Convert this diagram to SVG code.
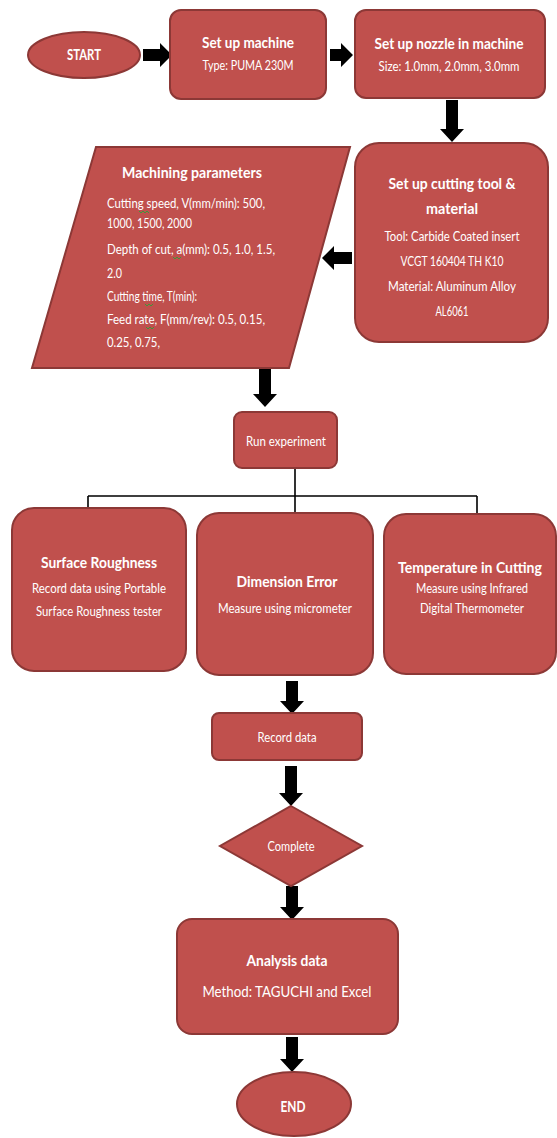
<svg xmlns="http://www.w3.org/2000/svg" width="557" height="1138" viewBox="0 0 557 1138">
<defs>
<style>
.n{fill:#C0504D;stroke:#8C3836;stroke-width:2}
.t{font-family:Lato,"Open Sans","Liberation Sans",sans-serif;fill:#FFFFFF;text-anchor:middle}
.h{font-weight:bold;font-size:16px}
.s{font-size:12.5px}
.l{text-anchor:start}
.a{fill:#000000}
.c{fill:none;stroke:#000000;stroke-width:1.6}
.sq{fill:none;stroke:#3A9A3A;stroke-width:1}
</style>
</defs>
<rect width="557" height="1138" fill="#FFFFFF"/>
<g id="connectors">
<polygon class="a" points="143,49 160,49 160,43 172,55 160,67 160,61 143,61"/>
<polygon class="a" points="330,49 341,49 341,43 353,55 341,67 341,61 330,61"/>
<polygon class="a" points="446,100 458,100 458,129 464,129 452,142 440,129 446,129"/>
<polygon class="a" points="352,252 334,252 334,246 322,258 334,270 334,264 352,264"/>
<polygon class="a" points="259,369 271,369 271,394 277,394 265,407 253,394 259,394"/>
<path class="c" d="M295,468 V513 M88,496 H477 M88,496 V508 M477,496 V514"/>
<polygon class="a" points="286,681 298,681 298,701 304,701 292,714 280,701 286,701"/>
<polygon class="a" points="285,766 297,766 297,793 303,793 291,806 279,793 285,793"/>
<polygon class="a" points="286,886 298,886 298,907 304,907 292,920 280,907 286,907"/>
<polygon class="a" points="286,1037 298,1037 298,1059 304,1059 292,1072 280,1059 286,1059"/>
</g>
<g id="start">
<ellipse class="n" cx="84" cy="55" rx="56" ry="23"/>
<text class="t" x="84" y="60" font-size="15" font-weight="bold" textLength="34" lengthAdjust="spacingAndGlyphs">START</text>
</g>
<g id="setup-machine">
<rect class="n" x="170" y="10" width="156" height="89" rx="11"/>
<text class="t h" x="248" y="48" textLength="92" lengthAdjust="spacingAndGlyphs">Set up machine</text>
<text class="t s" x="248" y="70" textLength="91" lengthAdjust="spacingAndGlyphs">Type: PUMA 230M</text>
</g>
<g id="setup-nozzle">
<rect class="n" x="355" y="10" width="190" height="88" rx="11"/>
<text class="t h" x="449" y="49" textLength="149" lengthAdjust="spacingAndGlyphs">Set up nozzle in machine</text>
<text class="t s" x="449" y="71" textLength="141" lengthAdjust="spacingAndGlyphs">Size: 1.0mm,  2.0mm, 3.0mm</text>
</g>
<g id="setup-tool">
<rect class="n" x="355" y="143" width="193" height="199" rx="24"/>
<text class="t h" x="452" y="189" font-size="17" textLength="127" lengthAdjust="spacingAndGlyphs">Set up cutting tool &amp;</text>
<text class="t h" x="452" y="214" font-size="17" textLength="52" lengthAdjust="spacingAndGlyphs">material</text>
<text class="t s" x="452" y="241" textLength="135" lengthAdjust="spacingAndGlyphs">Tool: Carbide Coated insert</text>
<text class="t s" x="452" y="266" textLength="103" lengthAdjust="spacingAndGlyphs">VCGT 160404 TH K10</text>
<text class="t s" x="452" y="291" textLength="128" lengthAdjust="spacingAndGlyphs">Material: Aluminum Alloy</text>
<text class="t s" x="452" y="316" textLength="33" lengthAdjust="spacingAndGlyphs">AL6061</text>
</g>
<g id="machining-parameters">
<polygon class="n" points="96,147 350,147 289,368 32,368"/>
<text class="t h" x="192" y="178" textLength="140" lengthAdjust="spacingAndGlyphs">Machining parameters</text>
<text class="t s l" x="107" y="208" textLength="158" lengthAdjust="spacingAndGlyphs">Cutting speed, V(mm/min):  500,</text>
<text class="t s l" x="107" y="228" textLength="85" lengthAdjust="spacingAndGlyphs">1000, 1500, 2000</text>
<text class="t s l" x="107" y="254" textLength="168" lengthAdjust="spacingAndGlyphs">Depth of cut, a(mm): 0.5, 1.0, 1.5,</text>
<text class="t s l" x="107" y="278" textLength="15" lengthAdjust="spacingAndGlyphs">2.0</text>
<text class="t s l" x="107" y="301" textLength="90" lengthAdjust="spacingAndGlyphs">Cutting time, T(min):</text>
<text class="t s l" x="107" y="324" textLength="158" lengthAdjust="spacingAndGlyphs">Feed rate, F(mm/rev): 0.5, 0.15,</text>
<text class="t s l" x="107" y="347" textLength="53" lengthAdjust="spacingAndGlyphs">0.25, 0.75,</text>
<path class="sq" d="M139,211 l2,2 l2,-2 l2,2 l2,-2 l2,2 M173,257 l2,2 l2,-2 l2,2 l2,-2 M145,304 l2,2 l2,-2 l2,2 l2,-2 M146,327 l2,2 l2,-2 l2,2 l2,-2"/>
</g>
<g id="run-experiment">
<rect class="n" x="234" y="412" width="103" height="56" rx="8"/>
<text class="t s" x="286" y="446" textLength="80" lengthAdjust="spacingAndGlyphs">Run experiment</text>
</g>
<g id="surface-roughness">
<rect class="n" x="12" y="508" width="174" height="163" rx="22"/>
<text class="t h" x="99" y="568" textLength="116" lengthAdjust="spacingAndGlyphs">Surface Roughness</text>
<text class="t s" x="99" y="593" textLength="134" lengthAdjust="spacingAndGlyphs">Record data using Portable</text>
<text class="t s" x="99" y="616" textLength="126" lengthAdjust="spacingAndGlyphs">Surface Roughness  tester</text>
</g>
<g id="dimension-error">
<rect class="n" x="197" y="513" width="176" height="162" rx="22"/>
<text class="t h" x="287" y="587" textLength="101" lengthAdjust="spacingAndGlyphs">Dimension Error</text>
<text class="t s" x="285" y="613" textLength="134" lengthAdjust="spacingAndGlyphs">Measure using micrometer</text>
</g>
<g id="temperature">
<rect class="n" x="384" y="514" width="172" height="160" rx="22"/>
<text class="t h" x="470" y="573" font-size="14" textLength="144" lengthAdjust="spacingAndGlyphs">Temperature in Cutting</text>
<text class="t s" x="472" y="593" textLength="112" lengthAdjust="spacingAndGlyphs">Measure using Infrared</text>
<text class="t s" x="472" y="613" textLength="104" lengthAdjust="spacingAndGlyphs">Digital Thermometer</text>
</g>
<g id="record-data">
<rect class="n" x="212" y="713" width="150" height="47" rx="7"/>
<text class="t s" x="287" y="742" textLength="59" lengthAdjust="spacingAndGlyphs">Record data</text>
</g>
<g id="complete">
<polygon class="n" points="291,806 362,846 291,886 220,846"/>
<text class="t s" x="291" y="851" textLength="47" lengthAdjust="spacingAndGlyphs">Complete</text>
</g>
<g id="analysis-data">
<rect class="n" x="177" y="919" width="221" height="115" rx="15"/>
<text class="t h" x="287" y="966" textLength="81" lengthAdjust="spacingAndGlyphs">Analysis data</text>
<text class="t" x="287" y="997" font-size="15" textLength="169" lengthAdjust="spacingAndGlyphs">Method: TAGUCHI and Excel</text>
</g>
<g id="end">
<ellipse class="n" cx="294" cy="1104" rx="57" ry="32"/>
<text class="t" x="293" y="1112" font-size="15" font-weight="bold" textLength="25" lengthAdjust="spacingAndGlyphs">END</text>
</g>
</svg>
